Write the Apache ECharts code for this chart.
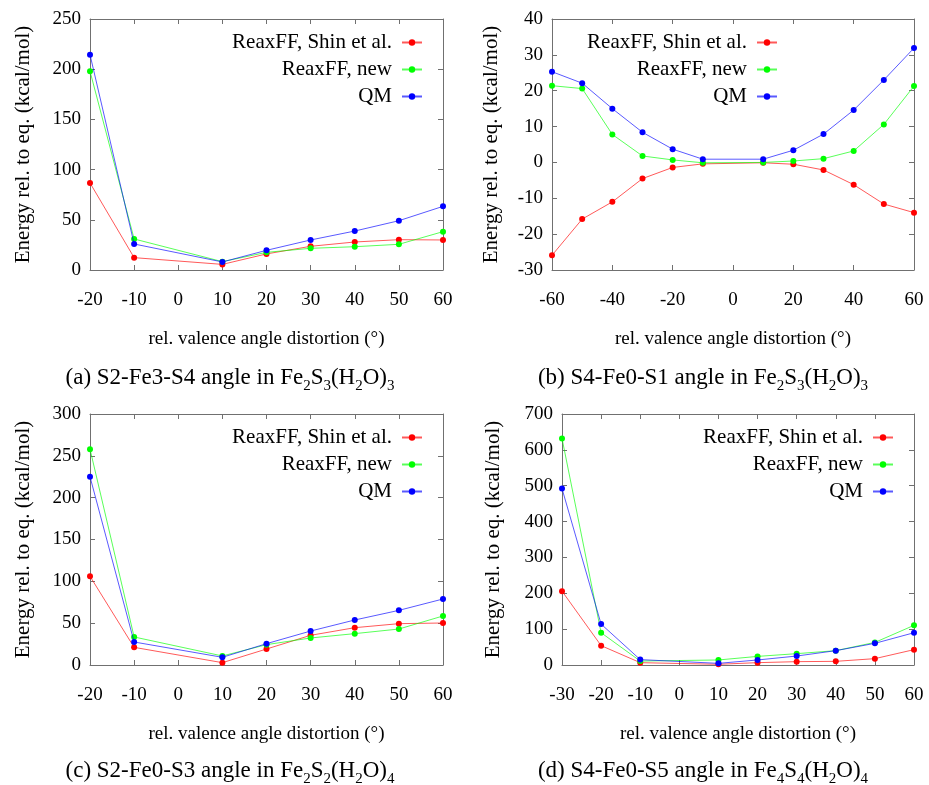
<!DOCTYPE html>
<html>
<head>
<meta charset="utf-8">
<script src="https://cdn.jsdelivr.net/npm/echarts@6/dist/echarts.min.js"></script>
<style>
html,body{margin:0;padding:0;background:#fff;}
#c{width:929px;height:785px;}
</style>
</head>
<body>
<div id="c"></div>
<script>
// ---- Data ----
const seriesNames = ['ReaxFF, Shin et al.', 'ReaxFF, new', 'QM'];

const xA = [-20, -10, 10, 20, 30, 40, 50, 60];
const shinA = [86.7, 12.3, 5.6, 16, 23.6, 27.9, 30.2, 29.9];
const newA = [198, 30.9, 8.3, 17.6, 21.6, 23.2, 25.6, 38.2];
const qmA = [214.5, 25.9, 8, 19.6, 29.9, 38.8, 49.1, 63.4];

const xB = [-60, -50, -40, -30, -20, -10, 10, 20, 30, 40, 50, 60];
const shinB = [-25.9, -15.8, -11.0, -4.5, -1.4, -0.4, -0.1, -0.5, -2.1, -6.2, -11.6, -14.0];
const newB = [21.4, 20.6, 7.8, 1.8, 0.7, -0.1, 0, 0.4, 1.05, 3.2, 10.6, 21.3];
const qmB = [25.3, 22.1, 15.0, 8.4, 3.7, 0.9, 0.9, 3.4, 7.9, 14.6, 23.0, 31.9];

const xC = [-20, -10, 10, 20, 30, 40, 50, 60];
const shinC = [106, 21.1, 2.8, 19.1, 35.5, 44.6, 49.4, 50.2];
const newC = [258, 33.5, 10.8, 24.3, 32.3, 37.5, 43, 58.6];
const qmC = [225, 27.5, 9.2, 25.5, 40.6, 53.8, 65.3, 78.9];

const xD = [-30, -20, -10, 10, 20, 30, 40, 50, 60];
const shinD = [206, 54, 6.5, 2, 6.5, 9.3, 10.2, 17.7, 42.8];
const newD = [632, 90, 11, 14, 24, 31.6, 40, 63, 110.6];
const qmD = [492, 114, 15, 4.6, 14, 25, 40, 60.4, 90];

// axis ranges [min, max, interval]
const xRanges = [[-20, 60, 10], [-60, 60, 20], [-20, 60, 10], [-30, 60, 10]];
const yRanges = [[0, 250, 50], [-30, 40, 10], [0, 300, 50], [0, 700, 100]];

const xAxisTitle = 'rel. valence angle distortion (°)';
const yAxisTitle = 'Energy rel. to eq. (kcal/mol)';

const captions = [
  '{m|(a) S2-Fe3-S4 angle in Fe}{s|2}{m|S}{s|3}{m|(H}{s|2}{m|O)}{s|3}',
  '{m|(b) S4-Fe0-S1 angle in Fe}{s|2}{m|S}{s|3}{m|(H}{s|2}{m|O)}{s|3}',
  '{m|(c) S2-Fe0-S3 angle in Fe}{s|2}{m|S}{s|2}{m|(H}{s|2}{m|O)}{s|4}',
  '{m|(d) S4-Fe0-S5 angle in Fe}{s|4}{m|S}{s|4}{m|(H}{s|2}{m|O)}{s|4}'
];

const panels = [
  {x: xA, ys: [shinA, newA, qmA]},
  {x: xB, ys: [shinB, newB, qmB]},
  {x: xC, ys: [shinC, newC, qmC]},
  {x: xD, ys: [shinD, newD, qmD]}
];

// ---- Layout ----
const FONT = 'Liberation Serif';
const colors = ['#ff0000', '#00ff00', '#0000ff'];
const frame = '#707070';
const grids = [
  {left: 90, top: 19, width: 353, height: 251},
  {left: 552, top: 19, width: 362, height: 251},
  {left: 90, top: 414, width: 353, height: 251},
  {left: 562, top: 414, width: 352, height: 251}
];
const yNameGaps = [56, 50, 56, 58];
const legendPos = [
  {right: 506, top: 32},
  {right: 151, top: 32},
  {right: 506, top: 427},
  {right: 35, top: 427}
];
const captionPos = [[230, 380], [703, 380], [230, 773], [703, 773]];

const option = {
  animation: false,
  backgroundColor: '#fff',
  grid: grids.map(g => Object.assign({containLabel: false}, g)),
  xAxis: [],
  yAxis: [],
  legend: [],
  series: [],
  graphic: []
};

panels.forEach((p, i) => {
  const xr = xRanges[i], yr = yRanges[i];
  const common = {
    gridIndex: i,
    type: 'value',
    splitLine: {show: false},
    axisLine: {show: true, onZero: false, lineStyle: {color: frame, width: 1}},
    axisTick: {show: true, inside: true, length: 5, lineStyle: {color: frame}},
  };
  option.xAxis.push(Object.assign({}, common, {
    position: 'bottom', min: xr[0], max: xr[1], interval: xr[2],
    axisLabel: {show: true, color: '#000', fontFamily: FONT, fontSize: 19, margin: 21},
    name: xAxisTitle, nameLocation: 'middle', nameGap: 60,
    nameTextStyle: {color: '#000', fontFamily: FONT, fontSize: 19}
  }));
  option.xAxis.push(Object.assign({}, common, {
    position: 'top', min: xr[0], max: xr[1], interval: xr[2],
    axisLabel: {show: false}
  }));
  option.yAxis.push(Object.assign({}, common, {
    position: 'left', min: yr[0], max: yr[1], interval: yr[2],
    axisLabel: {show: true, color: '#000', fontFamily: FONT, fontSize: 19, margin: 9},
    name: yAxisTitle, nameLocation: 'middle', nameGap: yNameGaps[i], nameRotate: 90,
    nameTextStyle: {color: '#000', fontFamily: FONT, fontSize: 21}
  }));
  option.yAxis.push(Object.assign({}, common, {
    position: 'right', min: yr[0], max: yr[1], interval: yr[2],
    axisLabel: {show: false}
  }));

  p.ys.forEach((ys, k) => {
    option.series.push({
      type: 'line',
      name: seriesNames[k],
      xAxisIndex: 2 * i,
      yAxisIndex: 2 * i,
      data: p.x.map((xv, j) => [xv, ys[j]]),
      symbol: 'circle',
      symbolSize: 6,
      showSymbol: true,
      color: colors[k],
      lineStyle: {color: colors[k], width: 1, opacity: 0.65},
      itemStyle: {color: colors[k]},
      z: 2 + k
    });
  });

  option.legend.push(Object.assign({
    orient: 'vertical',
    align: 'right',
    data: seriesNames,
    itemWidth: 20,
    itemHeight: 8,
    itemGap: 6,
    padding: 0,
    selectedMode: false,
    textStyle: {color: '#000', fontFamily: FONT, fontSize: 21, lineHeight: 20, padding: [0, 5, 0, 0]}
  }, legendPos[i]));

  option.graphic.push({
    type: 'text',
    x: captionPos[i][0],
    y: captionPos[i][1],
    style: {
      text: captions[i],
      align: 'center',
      verticalAlign: 'middle',
      fill: '#000',
      fontFamily: FONT,
      fontSize: 23,
      rich: {
        m: {fontFamily: FONT, fontSize: 23, lineHeight: 24, verticalAlign: 'top'},
        s: {fontFamily: FONT, fontSize: 15, lineHeight: 28, verticalAlign: 'bottom'}
      }
    }
  });
});

const chart = echarts.init(document.getElementById('c'), null, {renderer: 'canvas'});
chart.setOption(option);
</script>
</body>
</html>
